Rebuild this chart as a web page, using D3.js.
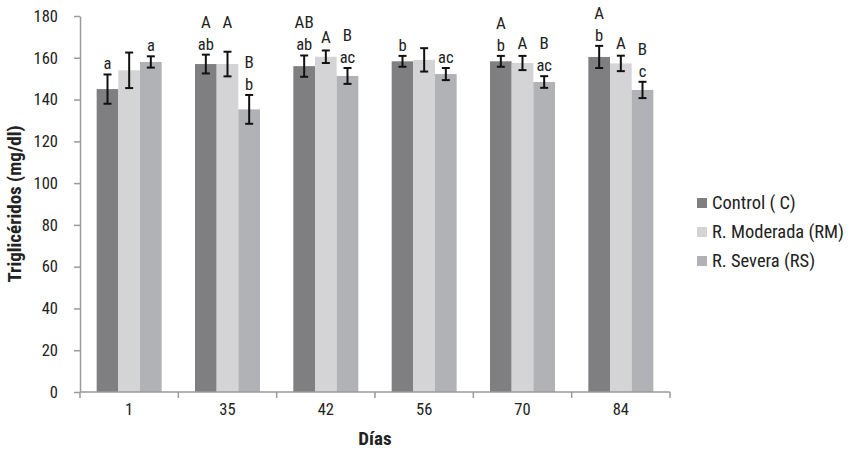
<!DOCTYPE html>
<html>
<head>
<meta charset="utf-8">
<script src="https://cdn.jsdelivr.net/npm/d3@7"></script>
<style>
  html, body { margin: 0; padding: 0; background: #fff; }
  svg text { font-family: 'Liberation Sans Narrow', 'Roboto Condensed', 'DejaVu Sans Condensed', sans-serif; font-stretch: condensed; fill: #222; }
</style>
</head>
<body>
<svg id="chart" width="853" height="451"></svg>
<script>
// Triglycerides per treatment group across the study days
const categories = ["1", "35", "42", "56", "70", "84"];
const seriesNames = ["Control ( C)", "R. Moderada (RM)", "R. Severa (RS)"];

const controlValues = [145, 157, 156, 158.3, 158.3, 160.4];
const moderadaValues = [154, 157, 160.5, 159, 157.5, 157.3];
const severaValues = [158, 135.3, 151.3, 152.2, 148.4, 144.6];

const controlErrors = [7, 4.5, 5.1, 2.6, 2.6, 5.3];
const moderadaErrors = [8.5, 5.9, 3, 5.6, 3.4, 3.7];
const severaErrors = [2.7, 6.9, 3.8, 2.9, 2.8, 3.9];

// Significance letters: lowercase compares days within a group, uppercase compares groups within a day
const controlLower = ["a", "ab", "ab", "b", "b", "b"];
const moderadaLower = ["", "", "", "", "", ""];
const severaLower = ["a", "b", "ac", "ac", "ac", "c"];

const controlUpper = ["", "A", "AB", "", "A", "A"];
const moderadaUpper = ["", "A", "A", "", "A", "A"];
const severaUpper = ["", "B", "B", "", "B", "B"];

const yTicks = [0, 20, 40, 60, 80, 100, 120, 140, 160, 180];

const colors = ["#7f7f82", "#d4d4d6", "#b1b2b6"];

// On day 35 the RM letter sits on the same row as the control letter
const upperRowWithControl = new Set(["35"]);

const series = [
  { name: seriesNames[0], values: controlValues, errors: controlErrors, lower: controlLower, upper: controlUpper },
  { name: seriesNames[1], values: moderadaValues, errors: moderadaErrors, lower: moderadaLower, upper: moderadaUpper },
  { name: seriesNames[2], values: severaValues, errors: severaErrors, lower: severaLower, upper: severaUpper }
];

const svg = d3.select("#chart");
const plotLeft = 80, plotRight = 670, plotTop = 16, plotBottom = 392;

const x0 = d3.scaleBand().domain(categories).range([plotLeft, plotRight]).paddingInner(0.339).paddingOuter(0.1695);
const x1 = d3.scaleBand().domain(d3.range(series.length)).range([0, x0.bandwidth()]);
const y = d3.scaleLinear().domain([0, 180]).range([plotBottom, plotTop]);

const axisColor = "#9a9a9a";

// Y axis
const yAxis = svg.append("g")
  .attr("transform", `translate(${plotLeft},0)`)
  .call(d3.axisLeft(y).tickValues(yTicks).tickSize(6).tickPadding(16).tickSizeOuter(0));
yAxis.select(".domain").attr("stroke", axisColor).attr("stroke-width", 1.5);
yAxis.selectAll(".tick line").attr("stroke", axisColor).attr("stroke-width", 1.5);
yAxis.selectAll(".tick text").style("font-size", "16.5px").attr("fill", "#222");

// Bars
const groups = svg.append("g").selectAll("g")
  .data(categories)
  .join("g")
  .attr("transform", d => `translate(${x0(d)},0)`);

groups.selectAll("rect")
  .data((c, i) => series.map((s, k) => ({ k, v: s.values[i] })))
  .join("rect")
  .attr("x", d => x1(d.k))
  .attr("width", x1.bandwidth())
  .attr("y", d => y(d.v))
  .attr("height", d => y(0) - y(d.v))
  .attr("fill", d => colors[d.k]);

// Error bars
const capHalf = 4;
groups.selectAll("g.err")
  .data((c, i) => series.map((s, k) => ({ k, v: s.values[i], e: s.errors[i] })))
  .join("g")
  .attr("class", "err")
  .each(function(d) {
    const g = d3.select(this);
    const cx = x1(d.k) + x1.bandwidth() / 2;
    const yt = y(d.v + d.e), yb = y(d.v - d.e);
    g.append("line").attr("x1", cx).attr("x2", cx).attr("y1", yt).attr("y2", yb);
    g.append("line").attr("x1", cx - capHalf).attr("x2", cx + capHalf).attr("y1", yt).attr("y2", yt);
    g.append("line").attr("x1", cx - capHalf).attr("x2", cx + capHalf).attr("y1", yb).attr("y2", yb);
    g.selectAll("line").attr("stroke", "#111").attr("stroke-width", 2);
  });

// Significance letters
const lowerGap = 5, rowGap = 22, upperOnlyGap = 7;
categories.forEach((c, i) => {
  const rows = series.map((s, k) => {
    const errTop = y(s.values[i] + s.errors[i]);
    const lowerY = errTop - lowerGap;
    const upperY = s.lower[i] ? lowerY - rowGap : errTop - upperOnlyGap;
    return { k, lowerY, upperY, lower: s.lower[i], upper: s.upper[i] };
  });
  if (upperRowWithControl.has(c)) rows[1].upperY = rows[0].upperY;
  rows.forEach(r => {
    const cx = x0(c) + x1(r.k) + x1.bandwidth() / 2;
    if (r.lower) svg.append("text").attr("x", cx).attr("y", r.lowerY).attr("text-anchor", "middle").style("font-size", "16.5px").text(r.lower);
    if (r.upper) svg.append("text").attr("x", cx).attr("y", r.upperY).attr("text-anchor", "middle").style("font-size", "17px").text(r.upper);
  });
});

// X axis with ticks on group boundaries
const xAxis = svg.append("g").attr("transform", `translate(0,${plotBottom})`);
xAxis.append("line").attr("x1", plotLeft).attr("x2", plotRight).attr("stroke", axisColor).attr("stroke-width", 1.5);
d3.range(categories.length + 1).forEach(k => {
  const bx = plotLeft + k * x0.step();
  xAxis.append("line").attr("x1", bx).attr("x2", bx).attr("y1", 0).attr("y2", 6).attr("stroke", axisColor).attr("stroke-width", 1.5);
});
xAxis.selectAll("text.cat")
  .data(categories)
  .join("text")
  .attr("class", "cat")
  .attr("x", d => x0(d) + x0.bandwidth() / 2)
  .attr("y", 23)
  .attr("text-anchor", "middle")
  .style("font-size", "16.5px")
  .text(d => d);

// Axis titles
svg.append("text")
  .attr("x", (plotLeft + plotRight) / 2).attr("y", 445)
  .attr("text-anchor", "middle")
  .style("font-size", "19px").style("font-weight", "bold")
  .text("Días");

svg.append("text")
  .attr("transform", `translate(21,${(plotTop + plotBottom) / 2}) rotate(-90)`)
  .attr("text-anchor", "middle")
  .style("font-size", "19px").style("font-weight", "bold")
  .text("Triglicéridos (mg/dl)");

// Legend
const legend = svg.append("g").attr("transform", "translate(697,196)");
series.forEach((s, k) => {
  const g = legend.append("g").attr("transform", `translate(0,${k * 29})`);
  g.append("rect").attr("width", 10).attr("height", 10).attr("y", 2).attr("fill", colors[k]);
  g.append("text").attr("x", 15).attr("y", 13).style("font-size", "18.5px").text(s.name);
});
</script>
</body>
</html>
